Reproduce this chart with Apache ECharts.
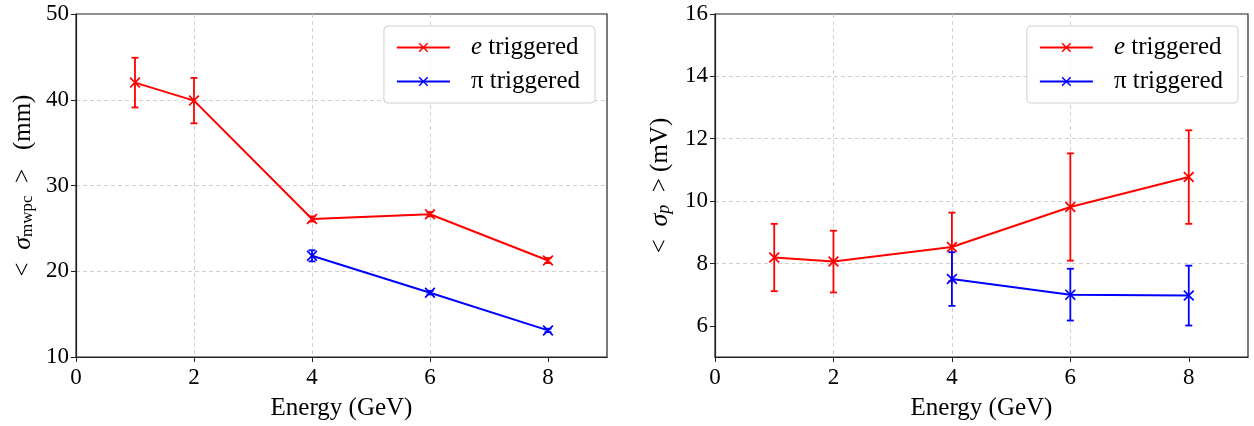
<!DOCTYPE html>
<html>
<head>
<meta charset="utf-8">
<script src="https://cdn.jsdelivr.net/npm/echarts@6/dist/echarts.min.js"></script>
<style>
  html, body { margin: 0; padding: 0; background: #fff; }
  #chart { width: 1254px; height: 426px; }
</style>
</head>
<body>
<div id="chart"></div>
<script>
  // energies (GeV)
  var energyE = [1, 2, 4, 6, 8]
  var energyPi = [4, 6, 8]
  // left panel: <sigma_mwpc> (mm)
  var mwpcE = [42.0, 39.9, 26.1, 26.65, 21.25]
  var mwpcEErr = [2.9, 2.65, 0.3, 0.25, 0.3]
  var mwpcPi = [21.8, 17.5, 13.1]
  var mwpcPiErr = [0.65, 0.2, 0.2]
  // right panel: <sigma_p> (mV)
  var sigpE = [8.19, 8.06, 8.53, 9.81, 10.77]
  var sigpEErr = [1.08, 0.99, 1.1, 1.72, 1.5]
  var sigpPi = [7.5, 7.0, 6.97]
  var sigpPiErr = [0.86, 0.83, 0.96]
  var xTicks = [0, 2, 4, 6, 8]
  var leftYTicks = [10, 20, 30, 40, 50]
  var rightYTicks = [6, 8, 10, 12, 14, 16]

  var FONT = 'Liberation Serif'
  var RED = '#ff0000'
  var BLUE = '#0000ff'
  // "x" marker, drawn as a filled shape
  var XSYM = 'path://M1.1,0L5,3.9L8.9,0L10,1.1L6.1,5L10,8.9L8.9,10L5,6.1L1.1,10L0,8.9L3.9,5L0,1.1Z'

  function pairs (xs, ys) {
    return xs.map(function (x, i) { return [x, ys[i]] })
  }
  function errData (xs, ys, es) {
    return xs.map(function (x, i) { return [x, ys[i], ys[i] - es[i], ys[i] + es[i]] })
  }
  function errRender (color) {
    return function (params, api) {
      var x = api.value(0)
      var top = api.coord([x, api.value(3)])
      var bot = api.coord([x, api.value(2)])
      var c = 3.5
      var st = { stroke: color, lineWidth: 1.8 }
      return {
        type: 'group',
        children: [
          { type: 'line', shape: { x1: top[0], y1: top[1], x2: bot[0], y2: bot[1] }, style: st },
          { type: 'line', shape: { x1: top[0] - c, y1: top[1], x2: top[0] + c, y2: top[1] }, style: st },
          { type: 'line', shape: { x1: bot[0] - c, y1: bot[1], x2: bot[0] + c, y2: bot[1] }, style: st }
        ]
      }
    }
  }

  var grids = [
    { left: 76, top: 14, width: 531, height: 345 },
    { left: 715, top: 14, width: 533, height: 345 }
  ]
  grids.forEach(function (g) {
    g.show = true
    g.borderColor = '#222'
    g.borderWidth = 1.2
    g.backgroundColor = '#fff'
  })

  var splitLine = {
    show: true, showMinLine: false, showMaxLine: false,
    lineStyle: { color: '#c4c4c4', type: [4, 3], width: 0.8 }
  }
  var axisLine = { show: true, lineStyle: { color: '#222', width: 1.2 } }

  function xAxisFor (gi) {
    return {
      type: 'value', gridIndex: gi, min: 0, max: 9,
      name: 'Energy (GeV)', nameLocation: 'middle', nameGap: 39,
      nameTextStyle: { fontFamily: FONT, fontSize: 25, color: '#000' },
      axisLine: axisLine,
      axisTick: { show: true, inside: false, length: 5, customValues: xTicks, lineStyle: { color: '#222' } },
      axisLabel: { customValues: xTicks, fontFamily: FONT, fontSize: 23, color: '#000', margin: 9 },
      splitLine: splitLine
    }
  }
  function yAxisFor (gi, min, max, ticks, name, gap) {
    return {
      type: 'value', gridIndex: gi, min: min, max: max,
      name: name, nameLocation: 'middle', nameGap: gap, nameRotate: 90,
      nameTextStyle: {
        fontFamily: FONT, fontSize: 25, color: '#000',
        rich: {
          a: { fontFamily: FONT, fontSize: 25, color: '#000', lineHeight: 26 },
          i: { fontFamily: FONT, fontSize: 26, color: '#000', fontStyle: 'italic', lineHeight: 26 },
          s: { fontFamily: FONT, fontSize: 17, color: '#000', verticalAlign: 'bottom', lineHeight: 12 },
          si: { fontFamily: FONT, fontSize: 18, color: '#000', fontStyle: 'italic', verticalAlign: 'bottom', lineHeight: 12 }
        }
      },
      axisLine: axisLine,
      axisTick: { show: true, inside: false, length: 5, customValues: ticks, lineStyle: { color: '#222' } },
      axisLabel: { customValues: ticks, fontFamily: FONT, fontSize: 23, color: '#000', margin: 7 },
      splitLine: splitLine
    }
  }

  function legendFor (right) {
    return {
      right: right, top: 26, orient: 'vertical',
      itemWidth: 53, itemHeight: 12, itemGap: 9,
      padding: [9, 15, 9, 12],
      backgroundColor: 'rgba(255,255,255,0.85)',
      borderColor: '#d0d0d0', borderWidth: 1, borderRadius: 4,
      data: [null],
      formatter: function (n) {
        return n.indexOf('e ') === 0 ? '{i|e} triggered' : '{a|π} triggered'
      },
      textStyle: {
        fontFamily: FONT, fontSize: 25, color: '#000', padding: [0, 0, 0, 16],
        rich: {
          i: { fontFamily: FONT, fontSize: 25, fontStyle: 'italic', color: '#000' },
          a: { fontFamily: FONT, fontSize: 25, color: '#000' }
        }
      }
    }
  }

  function lineSeries (name, gi, data, color) {
    return {
      name: name, type: 'line', xAxisIndex: gi, yAxisIndex: gi,
      data: data, symbol: XSYM, symbolSize: 11, showSymbol: true,
      lineStyle: { color: color, width: 2 }, itemStyle: { color: color },
      z: 3, animation: false
    }
  }
  function errSeries (gi, data, color) {
    return {
      type: 'custom', xAxisIndex: gi, yAxisIndex: gi,
      renderItem: errRender(color), data: data,
      encode: { x: 0, y: [2, 3] }, z: 2, animation: false, silent: true
    }
  }

  var l0 = legendFor(1254 - 595)
  l0.data = ['e triggered', 'π triggered']
  var l1 = legendFor(1254 - 1238)
  l1.data = ['e triggered ', 'π triggered ']

  var chart = echarts.init(document.getElementById('chart'), null, { renderer: 'canvas' })
  chart.setOption({
    animation: false,
    grid: grids,
    xAxis: [xAxisFor(0), xAxisFor(1)],
    yAxis: [
      yAxisFor(0, 10, 50, leftYTicks, '{a|<  }{i|σ}{s|mwpc}{a|  >   (mm)}', 40),
      yAxisFor(1, 5, 16, rightYTicks, '{a|<  }{i|σ}{si|p}{a|  > (mV)}', 42)
    ],
    legend: [l0, l1],
    series: [
      errSeries(0, errData(energyE, mwpcE, mwpcEErr), RED),
      errSeries(0, errData(energyPi, mwpcPi, mwpcPiErr), BLUE),
      lineSeries('e triggered', 0, pairs(energyE, mwpcE), RED),
      lineSeries('π triggered', 0, pairs(energyPi, mwpcPi), BLUE),
      errSeries(1, errData(energyE, sigpE, sigpEErr), RED),
      errSeries(1, errData(energyPi, sigpPi, sigpPiErr), BLUE),
      lineSeries('e triggered ', 1, pairs(energyE, sigpE), RED),
      lineSeries('π triggered ', 1, pairs(energyPi, sigpPi), BLUE)
    ]
  })
</script>
</body>
</html>
